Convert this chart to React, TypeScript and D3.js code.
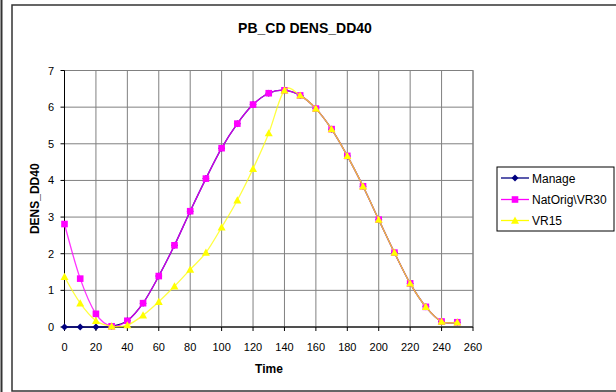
import React from "react";
import * as d3 from "d3";

const times = [0, 10, 20, 30, 40, 50, 60, 70, 80, 90, 100, 110, 120, 130, 140, 150, 160, 170, 180, 190, 200, 210, 220, 230, 240, 250];
const natOrig = [2.81, 1.32, 0.36, 0.02, 0.17, 0.65, 1.39, 2.23, 3.16, 4.05, 4.88, 5.55, 6.07, 6.38, 6.46, 6.32, 5.96, 5.4, 4.67, 3.84, 2.93, 2.03, 1.19, 0.55, 0.15, 0.13];
const manage = [0, 0, 0, 0.02, 0.17, 0.65, 1.39, 2.23, 3.16, 4.05, 4.88, 5.55, 6.07, 6.38, 6.46, 6.32, 5.96, 5.4, 4.67, 3.84, 2.93, 2.03, 1.19, 0.55, 0.15, 0.13];
const vr15 = [1.37, 0.65, 0.17, 0.02, 0.05, 0.32, 0.69, 1.11, 1.57, 2.03, 2.72, 3.46, 4.32, 5.29, 6.46, 6.32, 5.96, 5.4, 4.67, 3.84, 2.93, 2.03, 1.19, 0.55, 0.15, 0.13];
const xTicks = [0, 20, 40, 60, 80, 100, 120, 140, 160, 180, 200, 220, 240, 260];
const yTicks = [0, 1, 2, 3, 4, 5, 6, 7];
const seriesNames = ["Manage", "NatOrig\\VR30", "VR15"];

const FONT = "'Liberation Sans', Arial, sans-serif";

type Series = { name: string; values: number[]; color: string; marker: string; opacity: number };

const series: Series[] = [
  { name: seriesNames[0], values: manage, color: "#000080", marker: "diamond", opacity: 1 },
  { name: seriesNames[1], values: natOrig, color: "#FF00FF", marker: "square", opacity: 0.8 },
  { name: seriesNames[2], values: vr15, color: "#FFFF00", marker: "triangle", opacity: 0.75 },
];

function Marker({ kind, cx, cy, color }: { kind: string; cx: number; cy: number; color: string }) {
  if (kind === "diamond") {
    const r = 3.5;
    return <path d={`M${cx},${cy - r}L${cx + r},${cy}L${cx},${cy + r}L${cx - r},${cy}Z`} fill={color} />;
  }
  if (kind === "square") {
    const r = 3.3;
    return <rect x={cx - r} y={cy - r} width={2 * r} height={2 * r} fill={color} />;
  }
  const r = 4;
  return <path d={`M${cx},${cy - r}L${cx + r},${cy + r * 0.8}L${cx - r},${cy + r * 0.8}Z`} fill={color} />;
}

export default function App() {
  const W = 616;
  const H = 392;
  const x = d3.scaleLinear().domain([0, 260]).range([64.5, 473]);
  const y = d3.scaleLinear().domain([0, 7]).range([327, 70.5]);
  const line = d3
    .line<number>()
    .x((_, i) => x(times[i]))
    .y((v) => y(v))
    .curve(d3.curveCatmullRom.alpha(0));

  const legendX = 497;
  const legendY = 167;
  const legendRows = [178, 199.5, 220.5];

  return (
    <svg
      width={W}
      height={H}
      style={{ position: "absolute", left: 0, top: 0, background: "#fff" }}
      fontFamily={FONT}
    >
      <rect x={0} y={0} width={W} height={H} fill="#fff" />
      {/* outer frames */}
      <line x1={1.5} y1={0} x2={1.5} y2={H} stroke="#333" strokeWidth={2} />
      <rect x={12} y={5} width={640} height={386} fill="none" stroke="#333" strokeWidth={1.5} />

      {/* title */}
      <text x={305} y={32.5} textAnchor="middle" fontSize={14} fontWeight="bold">
        PB_CD DENS_DD40
      </text>

      {/* grid */}
      {xTicks.map((t) => (
        <line key={"gx" + t} x1={x(t)} x2={x(t)} y1={y(7)} y2={y(0)} stroke="#808080" strokeWidth={1} />
      ))}
      {yTicks.map((t) => (
        <line key={"gy" + t} x1={x(0)} x2={x(260)} y1={y(t)} y2={y(t)} stroke="#808080" strokeWidth={1} />
      ))}
      <rect x={x(0)} y={y(7)} width={x(260) - x(0)} height={y(0) - y(7)} fill="none" stroke="#808080" strokeWidth={1} />

      {/* axes */}
      <line x1={x(0)} x2={x(0)} y1={y(7)} y2={y(0)} stroke="#000" strokeWidth={1} />
      <line x1={x(0)} x2={x(260)} y1={y(0)} y2={y(0)} stroke="#000" strokeWidth={1} />
      {yTicks.map((t) => (
        <g key={"yt" + t}>
          <line x1={x(0) - 4} x2={x(0)} y1={y(t)} y2={y(t)} stroke="#000" />
          <text x={54} y={y(t) + 4} textAnchor="end" fontSize={11}>
            {t}
          </text>
        </g>
      ))}
      {xTicks.map((t) => (
        <g key={"xt" + t}>
          <line x1={x(t)} x2={x(t)} y1={y(0)} y2={y(0) + 4} stroke="#000" />
          <text x={x(t)} y={351} textAnchor="middle" fontSize={11}>
            {t}
          </text>
        </g>
      ))}

      {/* axis titles */}
      <text x={269} y={372.5} textAnchor="middle" fontSize={12} fontWeight="bold">
        Time
      </text>
      <text
        transform={`translate(38.5,${(y(0) + y(7)) / 2}) rotate(-90)`}
        textAnchor="middle"
        fontSize={12}
        fontWeight="bold"
      >
        DENS_DD40
      </text>

      {/* series */}
      {series.map((s) => (
        <g key={s.name}>
          <path d={line(s.values) || ""} fill="none" stroke={s.color} strokeWidth={1.3} strokeOpacity={s.opacity} />
          {s.values.map((v, i) => (
            <Marker key={i} kind={s.marker} cx={x(times[i])} cy={y(v)} color={s.color} />
          ))}
        </g>
      ))}

      {/* legend */}
      <rect x={legendX} y={legendY} width={117} height={64} fill="#fff" stroke="#000" strokeWidth={1} />
      {series.map((s, i) => (
        <g key={"lg" + s.name}>
          <line x1={501} x2={529} y1={legendRows[i]} y2={legendRows[i]} stroke={s.color} strokeWidth={1.3} />
          <Marker kind={s.marker} cx={515} cy={legendRows[i]} color={s.color} />
          <text x={532} y={legendRows[i] + 4.5} fontSize={12}>
            {s.name}
          </text>
        </g>
      ))}
    </svg>
  );
}
